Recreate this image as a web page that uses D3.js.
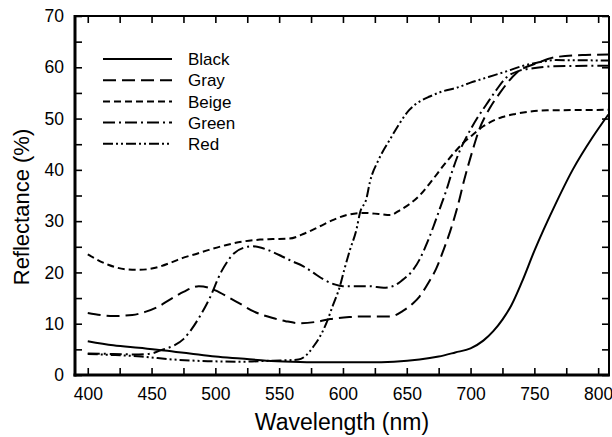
<!DOCTYPE html>
<html lang="en">
<head>
    <meta charset="UTF-8">
    <title>Reflectance spectra</title>
    <script src="https://d3js.org/d3.v7.min.js"></script>
    <style>
        body { margin: 0; background: #fff; }
        text { font-family: "Liberation Sans", Arial, sans-serif; fill: #000; }
        .axis path { display: none; }
        .axis line { stroke: #000; stroke-width: 1.6; }
        .curve { fill: none; stroke: #000; stroke-width: 2; }
    </style>
</head>
<body>
    <script>
        // wavelength (nm) / reflectance (%) pairs for each sample
        const black = [[400,6.6],[420,5.8],[440,5.3],[460,4.8],[480,4.2],[500,3.6],[520,3.2],[540,2.8],[560,2.6],[580,2.5],
            [600,2.5],[620,2.5],[640,2.6],[660,3.0],[675,3.6],[688,4.4],[700,5.2],[710,6.7],[718,8.6],[725,10.8],[732,13.6],
            [740,18],[750,24.2],[757,28.2],[765,32.5],[780,40],[796,46.5],[808,50.8]];
        const gray = [[400,12.1],[410,11.7],[420,11.5],[435,11.7],[445,12.3],[455,13.3],[465,14.8],[475,16.2],[487,17.3],
            [495,17.0],[500,16.5],[510,15.2],[520,13.8],[530,12.4],[545,11.1],[555,10.5],[566,10.1],[580,10.4],[590,10.9],
            [605,11.3],[615,11.4],[625,11.4],[637,11.4],[647,12.5],[655,14.0],[660,15.3],[667,18],[673,20.7],[679,24.5],
            [684,28],[690,33],[695,38],[701,43.3],[707,48],[715,52],[723,55],[736,58.9],[752,60.8],[767,62],[790,62.4],[808,62.5]];
        const beige = [[400,23.5],[416,21.5],[430,20.6],[440,20.5],[453,20.9],[465,21.9],[474,22.8],[485,23.6],[495,24.4],
            [508,25.3],[521,26.0],[535,26.4],[545,26.5],[558,26.6],[570,27.6],[582,29.0],[593,30.3],[603,31.2],[616,31.6],
            [628,31.4],[637,31.2],[645,32.2],[652,33.3],[660,35],[670,38],[679,40.9],[687,43.3],[694,45.2],[700,46.5],
            [710,48.5],[725,50.3],[735,50.9],[760,51.6],[808,51.7]];
        const green = [[400,4.2],[420,4.1],[440,4.0],[450,4.2],[458,4.9],[468,5.8],[475,7],[481,8.8],[488,11.5],[495,14.7],
            [505,20.3],[515,23.8],[522,24.8],[529,25.1],[536,24.8],[542,24.3],[550,23.4],[560,22.2],[569,21.2],[577,19.9],
            [585,18.6],[593,17.7],[600,17.3],[610,17.3],[621,17.3],[632,17.0],[640,17.4],[647,18.6],[654,20.2],[660,22.5],
            [666,25.8],[671,29],[676,32.5],[681,36],[686,40],[692,44],[697,46.5],[705,50],[712,52.6],[720,55.5],[728,58],
            [738,59.3],[749,59.8],[765,60.2],[808,60.3]];
        const red = [[400,4.1],[420,3.9],[442,3.6],[468,3.0],[494,2.7],[520,2.6],[545,2.8],[565,3.0],[571,3.8],[577,5.6],
            [582,7.5],[587,10.1],[592,13.5],[597.6,17.3],[601,20.5],[605.5,24.4],[610.7,28.5],[613.3,31.6],[618.5,34.5],
            [621,37.5],[628,42],[637,46],[645,49.3],[652,51.7],[660,53.3],[668,54.3],[678,55.3],[689,56],[700,57],[714,58.1],
            [728,59.2],[740,60.2],[752,60.9],[767,61.4],[808,61.3]];

        const seriesNames = ["Black", "Gray", "Beige", "Green", "Red"];
        const seriesData = [black, gray, beige, green, red];
        const dashes = [null, "13,6", "7,4", "12,4,2,4", "10,3,2,3,2,3"];

        const xTicks = d3.range(400, 801, 25);
        const yTicks = d3.range(0, 71, 5);

        const width = 612, height = 437;
        const margin = { left: 75, right: 3, top: 16, bottom: 62 };

        const svg = d3.select("body").append("svg")
            .attr("width", width)
            .attr("height", height);

        const x = d3.scaleLinear().domain([390, 808.5]).range([margin.left, width - margin.right]);
        const y = d3.scaleLinear().domain([0, 70]).range([height - margin.bottom, margin.top]);

        const tick = 7;
        const x0 = x.range()[0], x1 = x.range()[1], y0 = y.range()[0], y1 = y.range()[1];

        // axes with inward ticks; labels only on the major values
        svg.append("g").attr("class", "axis")
            .attr("transform", `translate(0,${y0})`)
            .call(d3.axisBottom(x).tickValues(xTicks).tickSize(-tick).tickPadding(13)
                .tickFormat(d => d % 50 === 0 ? d : ""))
            .call(g => g.selectAll("text").attr("font-size", 17.5).style("font-family", null));

        svg.append("g").attr("class", "axis")
            .attr("transform", `translate(0,${y1})`)
            .call(d3.axisTop(x).tickValues(xTicks).tickSize(-tick).tickFormat(""));

        svg.append("g").attr("class", "axis")
            .attr("transform", `translate(${x0},0)`)
            .call(d3.axisLeft(y).tickValues(yTicks).tickSize(-tick).tickPadding(11)
                .tickFormat(d => d % 10 === 0 ? d : ""))
            .call(g => g.selectAll("text").attr("font-size", 17.5).style("font-family", null));

        svg.append("g").attr("class", "axis")
            .attr("transform", `translate(${x1},0)`)
            .call(d3.axisRight(y).tickValues(yTicks).tickSize(-tick).tickFormat(""));

        // frame: heavier on the left and bottom
        svg.append("line").attr("x1", x0).attr("x2", x1).attr("y1", y1).attr("y2", y1)
            .attr("stroke", "#000").attr("stroke-width", 2);
        svg.append("line").attr("x1", x1).attr("x2", x1).attr("y1", y1).attr("y2", y0)
            .attr("stroke", "#000").attr("stroke-width", 2);
        svg.append("line").attr("x1", x0).attr("x2", x0).attr("y1", y1 - 1).attr("y2", y0 + 1.5)
            .attr("stroke", "#000").attr("stroke-width", 3);
        svg.append("line").attr("x1", x0 - 1.5).attr("x2", x1 + 1).attr("y1", y0).attr("y2", y0)
            .attr("stroke", "#000").attr("stroke-width", 3);

        const line = d3.line()
            .x(d => x(d[0]))
            .y(d => y(d[1]))
            .curve(d3.curveMonotoneX);

        svg.append("g")
            .selectAll("path")
            .data(seriesData)
            .join("path")
            .attr("class", "curve")
            .attr("d", line)
            .attr("stroke-dasharray", (d, i) => dashes[i]);

        // legend
        const legend = svg.append("g")
            .selectAll("g")
            .data(seriesNames)
            .join("g")
            .attr("transform", (d, i) => `translate(103,${59 + i * 21.2})`);

        legend.append("line")
            .attr("x1", 0).attr("x2", 69)
            .attr("stroke", "#000").attr("stroke-width", 2)
            .attr("stroke-dasharray", (d, i) => dashes[i]);

        legend.append("text")
            .attr("x", 85)
            .attr("dy", "0.36em")
            .attr("font-size", 17)
            .text(d => d);

        // axis titles
        svg.append("text")
            .attr("x", (x0 + x1) / 2)
            .attr("y", 430)
            .attr("text-anchor", "middle")
            .attr("font-size", 23)
            .text("Wavelength (nm)");

        svg.append("text")
            .attr("transform", `translate(29,207) rotate(-90)`)
            .attr("text-anchor", "middle")
            .attr("font-size", 22)
            .text("Reflectance (%)");
    </script>
</body>
</html>
